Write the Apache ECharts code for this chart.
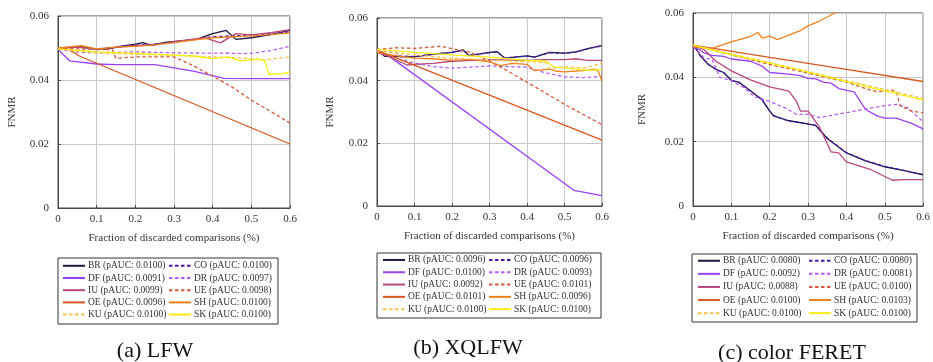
<!DOCTYPE html>
<html>
<head>
<meta charset="utf-8">
<script src="https://cdn.jsdelivr.net/npm/echarts@6/dist/echarts.min.js"></script>
<style>
  html, body { margin: 0; padding: 0; background: #fff; }
  #chart { width: 933px; height: 362px; }
</style>
</head>
<body>
<div id="chart"></div>
<script>
// method codes, in legend order (two columns)
const methods = ['BR', 'CO', 'DF', 'DR', 'IU', 'UE', 'OE', 'SH', 'KU', 'SK'];

// pAUC values shown in the legends
const lfwAuc = ['0.0100', '0.0100', '0.0091', '0.0097', '0.0099', '0.0098', '0.0096', '0.0100', '0.0100', '0.0100'];
const xqAuc = ['0.0096', '0.0096', '0.0100', '0.0093', '0.0092', '0.0101', '0.0101', '0.0096', '0.0100', '0.0100'];
const feretAuc = ['0.0080', '0.0080', '0.0092', '0.0081', '0.0088', '0.0100', '0.0100', '0.0103', '0.0100', '0.0100'];

const xTicks = [0, 0.1, 0.2, 0.3, 0.4, 0.5, 0.6];
const yTicks = [0, 0.02, 0.04, 0.06];

// ---- (a) LFW : [fraction discarded, FNMR]
const lfwBR = [[0,0.0500],[0.03,0.0502],[0.06,0.0505],[0.1,0.0495],[0.13,0.0497],[0.16,0.0505],[0.2,0.0512],[0.22,0.0517],[0.24,0.0508],[0.28,0.0518],[0.32,0.0522],[0.36,0.0528],[0.4,0.0545],[0.435,0.0555],[0.46,0.0527],[0.5,0.0532],[0.55,0.0542],[0.6,0.0555]];
const lfwCO = [[0,0.0500],[0.05,0.0503],[0.1,0.0497],[0.15,0.0502],[0.2,0.0508],[0.25,0.0512],[0.3,0.0518],[0.35,0.0527],[0.4,0.0535],[0.45,0.0538],[0.5,0.0540],[0.55,0.0545],[0.6,0.0550]];
const lfwDF = [[0,0.0500],[0.005,0.0490],[0.03,0.0460],[0.1,0.0450],[0.15,0.0448],[0.25,0.0448],[0.3,0.0438],[0.35,0.0428],[0.43,0.0405],[0.5,0.0404],[0.6,0.0404]];
const lfwDR = [[0,0.0497],[0.05,0.0487],[0.1,0.0485],[0.2,0.0488],[0.3,0.0485],[0.4,0.0484],[0.5,0.0483],[0.55,0.0492],[0.6,0.0505]];
const lfwIU = [[0,0.0500],[0.05,0.0503],[0.1,0.0496],[0.15,0.0502],[0.2,0.0508],[0.25,0.0510],[0.3,0.0520],[0.35,0.0528],[0.38,0.0532],[0.42,0.0516],[0.46,0.0545],[0.5,0.0541],[0.55,0.0548],[0.6,0.0557]];
const lfwUE = [[0,0.0500],[0.05,0.0497],[0.14,0.0495],[0.15,0.0468],[0.2,0.0472],[0.3,0.0472],[0.35,0.0445],[0.4,0.0412],[0.45,0.0378],[0.5,0.0337],[0.55,0.0302],[0.6,0.0265]];
const lfwOE = [[0,0.0500],[0.03,0.0495],[0.055,0.0475],[0.6,0.0200]];
const lfwSH = [[0,0.0500],[0.04,0.0505],[0.06,0.0507],[0.1,0.0497],[0.15,0.0503],[0.2,0.0505],[0.25,0.0510],[0.3,0.0517],[0.35,0.0525],[0.4,0.0532],[0.45,0.0535],[0.5,0.0538],[0.55,0.0542],[0.6,0.0547]];
const lfwKU = [[0,0.0497],[0.1,0.0485],[0.2,0.0480],[0.3,0.0477],[0.4,0.0472],[0.45,0.0470],[0.5,0.0467],[0.53,0.0462],[0.56,0.0467],[0.6,0.0472]];
const lfwSK = [[0,0.0497],[0.1,0.0488],[0.2,0.0483],[0.3,0.0478],[0.35,0.0475],[0.4,0.0467],[0.44,0.0472],[0.47,0.0460],[0.52,0.0465],[0.535,0.0460],[0.545,0.0418],[0.58,0.0420],[0.6,0.0425]];

// ---- (b) XQLFW
const xqBR = [[0,0.0500],[0.02,0.0478],[0.1,0.0476],[0.15,0.0485],[0.2,0.0490],[0.23,0.0498],[0.245,0.0480],[0.3,0.0490],[0.32,0.0493],[0.34,0.0472],[0.4,0.0479],[0.42,0.0475],[0.46,0.0490],[0.5,0.0488],[0.53,0.0492],[0.57,0.0505],[0.6,0.0512]];
const xqCO = [[0,0.0500],[0.02,0.0480],[0.1,0.0477],[0.2,0.0491],[0.23,0.0497],[0.245,0.0481],[0.3,0.0489],[0.32,0.0492],[0.34,0.0473],[0.4,0.0478],[0.42,0.0476],[0.46,0.0489],[0.5,0.0487],[0.53,0.0491],[0.57,0.0504],[0.6,0.0511]];
const xqDF = [[0,0.0500],[0.03,0.0480],[0.525,0.0050],[0.6,0.0033]];
const xqDR = [[0,0.0495],[0.05,0.0490],[0.08,0.0461],[0.15,0.0445],[0.2,0.0440],[0.3,0.0447],[0.4,0.0443],[0.45,0.0425],[0.5,0.0412],[0.55,0.0410],[0.6,0.0413]];
const xqIU = [[0,0.0490],[0.03,0.0478],[0.08,0.0450],[0.1,0.0452],[0.15,0.0455],[0.2,0.0462],[0.3,0.0467],[0.4,0.0465],[0.45,0.0467],[0.5,0.0467],[0.53,0.0470],[0.56,0.0465],[0.6,0.0465]];
const xqUE = [[0,0.0500],[0.05,0.0505],[0.1,0.0503],[0.17,0.0510],[0.2,0.0502],[0.25,0.0490],[0.3,0.0462],[0.35,0.0430],[0.4,0.0395],[0.45,0.0360],[0.5,0.0325],[0.55,0.0292],[0.6,0.0260]];
const xqOE = [[0,0.0497],[0.3,0.0354],[0.6,0.0210]];
const xqSH = [[0,0.0490],[0.05,0.0480],[0.1,0.0472],[0.15,0.0470],[0.2,0.0465],[0.25,0.0468],[0.3,0.0460],[0.33,0.0448],[0.36,0.0455],[0.4,0.0452],[0.42,0.0432],[0.46,0.0437],[0.48,0.0430],[0.5,0.0428],[0.55,0.0432],[0.58,0.0437],[0.59,0.0430],[0.6,0.0400]];
const xqKU = [[0,0.0495],[0.1,0.0482],[0.2,0.0472],[0.3,0.0466],[0.4,0.0460],[0.45,0.0458],[0.46,0.0438],[0.48,0.0440],[0.5,0.0445],[0.55,0.0440],[0.6,0.0455]];
const xqSK = [[0,0.0500],[0.1,0.0490],[0.2,0.0482],[0.3,0.0475],[0.4,0.0465],[0.45,0.0462],[0.47,0.0445],[0.5,0.0440],[0.53,0.0437],[0.56,0.0433],[0.6,0.0435]];

// ---- (c) color FERET
const feretBR = [[0,0.0500],[0.01,0.0485],[0.02,0.0465],[0.04,0.0440],[0.06,0.0425],[0.08,0.0415],[0.1,0.0390],[0.12,0.0385],[0.15,0.0358],[0.18,0.0330],[0.2,0.0295],[0.21,0.0280],[0.25,0.0265],[0.3,0.0255],[0.32,0.0250],[0.35,0.0210],[0.4,0.0165],[0.45,0.0140],[0.5,0.0122],[0.55,0.0110],[0.6,0.0097]];
const feretCO = [[0,0.0500],[0.01,0.0486],[0.02,0.0466],[0.04,0.0441],[0.06,0.0424],[0.08,0.0414],[0.1,0.0391],[0.12,0.0384],[0.15,0.0357],[0.18,0.0331],[0.2,0.0296],[0.21,0.0281],[0.25,0.0264],[0.3,0.0254],[0.32,0.0251],[0.35,0.0211],[0.4,0.0166],[0.45,0.0141],[0.5,0.0123],[0.55,0.0111],[0.6,0.0098]];
const feretDF = [[0,0.0500],[0.03,0.0475],[0.05,0.0468],[0.08,0.0465],[0.1,0.0457],[0.15,0.0450],[0.18,0.0435],[0.2,0.0415],[0.25,0.0410],[0.28,0.0405],[0.3,0.0397],[0.32,0.0395],[0.34,0.0385],[0.36,0.0382],[0.38,0.0365],[0.42,0.0355],[0.45,0.0300],[0.48,0.0280],[0.5,0.0273],[0.53,0.0273],[0.57,0.0257],[0.6,0.0240]];
const feretDR = [[0,0.0495],[0.03,0.0460],[0.05,0.0455],[0.07,0.0400],[0.1,0.0390],[0.13,0.0370],[0.16,0.0340],[0.2,0.0325],[0.24,0.0305],[0.27,0.0285],[0.3,0.0285],[0.33,0.0275],[0.4,0.0290],[0.45,0.0302],[0.5,0.0312],[0.53,0.0316],[0.56,0.0305],[0.6,0.0262]];
const feretIU = [[0,0.0500],[0.03,0.0485],[0.06,0.0450],[0.1,0.0420],[0.15,0.0392],[0.2,0.0370],[0.25,0.0357],[0.27,0.0325],[0.28,0.0295],[0.3,0.0295],[0.33,0.0245],[0.36,0.0168],[0.38,0.0165],[0.4,0.0137],[0.46,0.0115],[0.52,0.0080],[0.55,0.0082],[0.6,0.0082]];
const feretUE = [[0,0.0500],[0.1,0.0470],[0.2,0.0440],[0.3,0.0413],[0.4,0.0385],[0.45,0.0365],[0.48,0.0355],[0.52,0.0360],[0.53,0.0355],[0.54,0.0312],[0.57,0.0295],[0.6,0.0290]];
const feretOE = [[0,0.0500],[0.2,0.0462],[0.4,0.0425],[0.6,0.0387]];
const feretSH = [[0,0.0495],[0.05,0.0490],[0.1,0.0510],[0.15,0.0527],[0.17,0.0540],[0.18,0.0522],[0.2,0.0528],[0.22,0.0517],[0.28,0.0545],[0.3,0.0560],[0.33,0.0575],[0.37,0.0600],[0.4,0.0625]];
const feretKU = [[0,0.0500],[0.1,0.0472],[0.2,0.0446],[0.3,0.0418],[0.4,0.0390],[0.5,0.0362],[0.6,0.0335]];
const feretSK = [[0,0.0500],[0.1,0.0471],[0.2,0.0444],[0.3,0.0416],[0.4,0.0387],[0.5,0.0358],[0.6,0.0330]];

const lfwData = [lfwBR, lfwCO, lfwDF, lfwDR, lfwIU, lfwUE, lfwOE, lfwSH, lfwKU, lfwSK];
const xqData = [xqBR, xqCO, xqDF, xqDR, xqIU, xqUE, xqOE, xqSH, xqKU, xqSK];
const feretData = [feretBR, feretCO, feretDF, feretDR, feretIU, feretUE, feretOE, feretSH, feretKU, feretSK];

const captions = ['(a) LFW', '(b) XQLFW', '(c) color FERET'];

// styles
const colors = {
  BR: '#1d1640', CO: '#4a1ca6', DF: '#9a42f5', DR: '#b65cf0', IU: '#b8477c',
  UE: '#d35a3e', OE: '#d9561f', SH: '#ee801c', KU: '#f6c24a', SK: '#f5ee10'
};
const dashed = { CO: true, DR: true, UE: true, KU: true };

const FONT = 'Liberation Serif';

// panel layout (pixels)
const panels = [
  { grid: { left: 58, top: 16, width: 232, height: 192 }, nameGapY: 40, box: [58, 258, 220, 66], col1: 62, col2: 168, rowTop: 259.7, rowH: 12.2, cap: [155, 340] },
  { grid: { left: 377, top: 18, width: 225, height: 188 }, nameGapY: 41, box: [377, 253, 224, 65], col1: 382, col2: 488, rowTop: 253.8, rowH: 12.3, cap: [468, 337] },
  { grid: { left: 693, top: 13, width: 232, height: 193 }, nameGapY: 45, box: [692, 254, 225, 68], col1: 697, col2: 808, rowTop: 254.2, rowH: 13.1, cap: [792, 342] }
];
const allData = [lfwData, xqData, feretData];
const allAuc = [lfwAuc, xqAuc, feretAuc];

const labelOf = {};
const grids = [], xAxes = [], yAxes = [], series = [], legends = [], titles = [], graphics = [];

panels.forEach((p, pi) => {
  grids.push(Object.assign({ show: true, borderColor: '#4a4a4a', borderWidth: 1, backgroundColor: 'transparent' }, p.grid));
  xAxes.push({
    gridIndex: pi, type: 'value', min: 0, max: 0.6, interval: 0.1,
    name: 'Fraction of discarded comparisons (%)', nameLocation: 'middle', nameGap: 25,
    nameTextStyle: { fontFamily: FONT, fontSize: 11, color: '#333' },
    axisLine: { lineStyle: { color: '#4a4a4a' } },
    axisTick: { show: true, inside: true, length: 3, lineStyle: { color: '#4a4a4a' } },
    axisLabel: { fontFamily: FONT, fontSize: 11, color: '#333', margin: 6,
      formatter: v => { const t = xTicks.find(x => Math.abs(x - v) < 1e-9); return t === 0 ? '0' : String(+v.toFixed(1)); } },
    splitLine: { show: true, lineStyle: { color: '#c8c8c8', width: 1 } }
  });
  yAxes.push({
    gridIndex: pi, type: 'value', min: 0, max: 0.06, interval: 0.02,
    name: 'FNMR', nameLocation: 'middle', nameGap: p.nameGapY, nameRotate: 90,
    nameTextStyle: { fontFamily: FONT, fontSize: 11, color: '#333' },
    axisLine: { show: true, lineStyle: { color: '#4a4a4a' } },
    axisTick: { show: true, inside: true, length: 3, lineStyle: { color: '#4a4a4a' } },
    axisLabel: { fontFamily: FONT, fontSize: 11, color: '#333', margin: 9,
      formatter: v => { const t = yTicks.find(y => Math.abs(y - v) < 1e-9); return t === 0 ? '0' : v.toFixed(2); } },
    splitLine: { show: true, lineStyle: { color: '#c8c8c8', width: 1 } }
  });

  const names = [];
  methods.forEach((m, mi) => {
    const key = pi + '-' + m;
    labelOf[key] = m + ' (pAUC: ' + allAuc[pi][mi] + ')';
    names.push(key);
    series.push({
      name: key, type: 'line', xAxisIndex: pi, yAxisIndex: pi,
      data: allData[pi][mi], symbol: 'none', clip: true, z: 3,
      lineStyle: { color: colors[m], width: 1.3, type: dashed[m] ? [3.5, 2.5] : 'solid' },
      itemStyle: { color: colors[m] }
    });
  });

  const legendBase = {
    orient: 'vertical', padding: 0, itemGap: 0, itemWidth: 22, itemHeight: p.rowH,
    top: p.rowTop,
    itemStyle: { opacity: 0 },
    textStyle: { fontFamily: FONT, fontSize: 9.5, color: '#333', lineHeight: p.rowH, padding: [0, 0, 0, -2] },
    formatter: n => labelOf[n], selectedMode: false
  };
  legends.push(Object.assign({}, legendBase, { left: p.col1, data: names.filter((_, i) => i % 2 === 0) }));
  legends.push(Object.assign({}, legendBase, { left: p.col2, data: names.filter((_, i) => i % 2 === 1) }));

  graphics.push({
    type: 'rect', shape: { x: p.box[0], y: p.box[1], width: p.box[2], height: p.box[3] },
    style: { fill: 'none', stroke: '#333', lineWidth: 1 }, silent: true
  });

  titles.push({
    text: captions[pi], left: p.cap[0], top: p.cap[1], textAlign: 'center', padding: 0,
    textStyle: { fontFamily: FONT, fontSize: 22, fontWeight: 'normal', color: '#111' }
  });
});

const chart = echarts.init(document.getElementById('chart'), null, { renderer: 'canvas' });
chart.setOption({
  animation: false,
  backgroundColor: '#fff',
  title: titles,
  grid: grids,
  xAxis: xAxes,
  yAxis: yAxes,
  legend: legends,
  graphic: graphics,
  series: series
});
</script>
</body>
</html>
